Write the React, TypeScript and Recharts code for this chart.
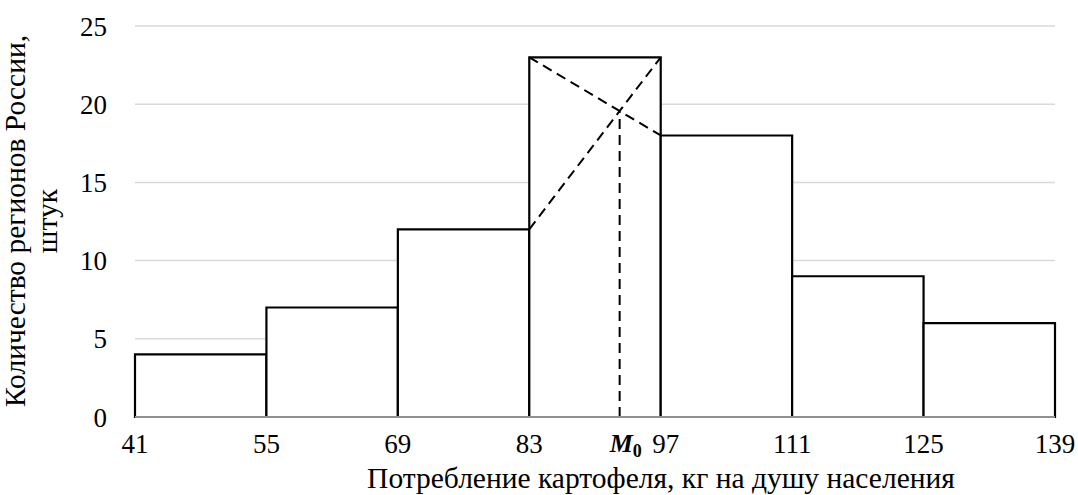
import React from 'react';
import {
  ComposedChart,
  XAxis,
  YAxis,
  CartesianGrid,
  ReferenceArea,
  ReferenceLine,
  Line,
} from 'recharts';

// Histogram bins (bin edges) and counts of regions
const binEdges = [41, 55, 69, 83, 97, 111, 125, 139];
const counts = [4, 7, 12, 23, 18, 9, 6];
const yTicks = [0, 5, 10, 15, 20, 25];
const xTitle = 'Потребление картофеля, кг на душу населения';
const yTitleLines = ['Количество регионов России,', 'штук'];

// Modal interval construction (graphical mode)
const modalIdx = counts.indexOf(Math.max(...counts));
const mPrev = counts[modalIdx - 1];
const mVal = counts[modalIdx];
const mNext = counts[modalIdx + 1];
const mX0 = binEdges[modalIdx];
const mX1 = binEdges[modalIdx + 1];
const h = mX1 - mX0;
const modeX = mX0 + (h * (mVal - mPrev)) / ((mVal - mPrev) + (mVal - mNext));
const modeY = mPrev + ((mVal - mPrev) * (modeX - mX0)) / h;

const bins = counts.map((c, i) => ({ x0: binEdges[i], x1: binEdges[i + 1], count: c }));
const xTicks = [...binEdges.slice(0, modalIdx + 1), modeX, ...binEdges.slice(modalIdx + 1)];

const FONT = "'Liberation Serif', 'Times New Roman', serif";
const FS = 27;
const TFS = 29.5;

const XTick = (props: any) => {
  const { x, y, payload } = props;
  if (Math.abs(payload.value - modeX) < 1e-6) {
    return (
      <text x={x - 10} y={y} dy="0.71em" textAnchor="start" fontFamily={FONT} fontSize={26} fill="#000">
        <tspan fontWeight="bold" fontStyle="italic">M</tspan>
        <tspan fontWeight="bold" fontSize={18} dy="5">0</tspan>
      </text>
    );
  }
  const shift = payload.value === mX1 ? 5 : 0;
  return (
    <text x={x + shift} y={y} dy="0.71em" textAnchor="middle" fontFamily={FONT} fontSize={FS} fill="#000">
      {payload.value}
    </text>
  );
};

const XTitle = (props: any) => {
  const vb = props.viewBox || {};
  const cx = vb.x + vb.width / 2 + 66;
  return (
    <text x={cx} y={488} textAnchor="middle" fontFamily={FONT} fontSize={TFS} fill="#000">
      {xTitle}
    </text>
  );
};

const YTitle = () => {
  const cx = 25;
  const cy = 221;
  return (
    <text
      x={cx}
      y={cy}
      transform={`rotate(-90, ${cx}, ${cy})`}
      textAnchor="middle"
      fontFamily={FONT}
      fontSize={TFS}
      fill="#000"
    >
      <tspan x={cx} dy={0}>{yTitleLines[0]}</tspan>
      <tspan x={cx} dy={32}>{yTitleLines[1]}</tspan>
    </text>
  );
};

export default function App() {
  return (
    <div style={{ position: 'absolute', left: 0, top: 0, background: '#fff' }}>
      <ComposedChart
        width={1078}
        height={495}
        data={bins}
        margin={{ top: 26, right: 23, bottom: 0, left: 0 }}
      >
        <CartesianGrid horizontal vertical={false} stroke="#d9d9d9" strokeWidth={1.5} />
        <XAxis
          type="number"
          dataKey="x0"
          domain={[binEdges[0], binEdges[binEdges.length - 1]]}
          ticks={xTicks}
          interval={0}
          height={78}
          tickSize={0}
          tickMargin={17}
          tickLine={false}
          axisLine={{ stroke: '#bfbfbf', strokeWidth: 1.5 }}
          tick={<XTick />}
          label={<XTitle />}
          allowDataOverflow
        />
        <YAxis
          type="number"
          domain={[0, 25]}
          ticks={yTicks}
          width={135}
          tickSize={0}
          tickMargin={28}
          tickLine={false}
          axisLine={false}
          tick={{ fontFamily: FONT, fontSize: FS, fill: '#000' }}
          label={<YTitle />}
        />
        <Line dataKey="count" stroke="none" dot={false} activeDot={false} isAnimationActive={false} legendType="none" />
        {bins.map((b, i) => (
          <ReferenceArea
            key={i}
            x1={b.x0}
            x2={b.x1}
            y1={0}
            y2={b.count}
            fill="#ffffff"
            fillOpacity={1}
            stroke="#000"
            strokeWidth={2.2}
            strokeOpacity={1}
            ifOverflow="visible"
          />
        ))}
        <ReferenceLine
          segment={[{ x: mX0, y: mPrev }, { x: mX1, y: mVal }]}
          stroke="#000"
          strokeWidth={2}
          strokeDasharray="10 6"
          ifOverflow="visible"
        />
        <ReferenceLine
          segment={[{ x: mX0, y: mVal }, { x: mX1, y: mNext }]}
          stroke="#000"
          strokeWidth={2}
          strokeDasharray="10 6"
          ifOverflow="visible"
        />
        <ReferenceLine
          segment={[{ x: modeX, y: 0 }, { x: modeX, y: modeY }]}
          stroke="#000"
          strokeWidth={2}
          strokeDasharray="10 6"
          ifOverflow="visible"
        />
      </ComposedChart>
    </div>
  );
}
